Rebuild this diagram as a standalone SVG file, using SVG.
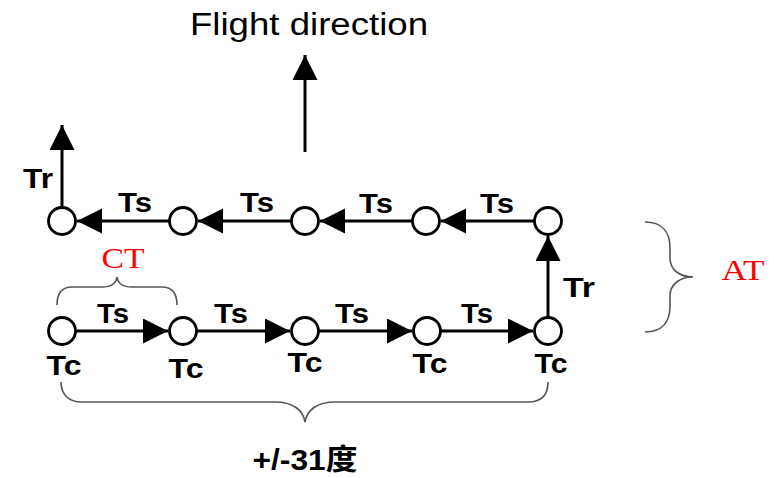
<svg xmlns="http://www.w3.org/2000/svg" width="779" height="478" viewBox="0 0 779 478">
  <style>
    .node { fill: #fff; stroke: #000; stroke-width: 2.8; }
    .link { stroke: #000; stroke-width: 3; fill: none; marker-end: url(#head); }
    .lbl { font-family: "Liberation Sans", Arial, sans-serif; font-size: 28px; font-weight: bold; fill: #000; text-anchor: middle; }
    .red { font-family: "Liberation Serif", "Times New Roman", serif; font-size: 30px; fill: #f00; text-anchor: middle; }
    .brace { fill: none; stroke: #555; stroke-width: 1.6; }
  </style>
  <defs>
    <marker id="head" markerUnits="userSpaceOnUse" markerWidth="26" markerHeight="26" refX="25" refY="12.5" orient="auto">
      <path d="M0,0 L25,12.5 L0,25 Z" fill="#000"/>
    </marker>
  </defs>
  <rect width="779" height="478" fill="#fff"/>

  <!-- title and flight direction arrow -->
  <text x="309" y="35" font-family="Liberation Sans, Arial, sans-serif" font-size="31" text-anchor="middle" textLength="238" lengthAdjust="spacingAndGlyphs">Flight direction</text>

  <g id="connectors">
    <line class="link" x1="305" y1="152" x2="305" y2="55"/>
    <!-- top row, right to left -->
    <line class="link" x1="534" y1="221" x2="441" y2="221"/>
    <line class="link" x1="412" y1="221" x2="320" y2="221"/>
    <line class="link" x1="291" y1="221" x2="198" y2="221"/>
    <line class="link" x1="169" y1="221" x2="77" y2="221"/>
    <line class="link" x1="62" y1="207" x2="62" y2="125"/>
    <!-- bottom row, left to right -->
    <line class="link" x1="75" y1="331" x2="168" y2="331"/>
    <line class="link" x1="196" y1="331" x2="290" y2="331"/>
    <line class="link" x1="318" y1="331" x2="412" y2="331"/>
    <line class="link" x1="440" y1="331" x2="533" y2="331"/>
    <line class="link" x1="548" y1="317" x2="548" y2="236"/>
  </g>

  <g id="top-row">
    <g id="t1"><circle class="node" cx="62" cy="221" r="13.5"/></g>
    <g id="t2"><circle class="node" cx="183" cy="221" r="13.5"/></g>
    <g id="t3"><circle class="node" cx="305" cy="221" r="13.5"/></g>
    <g id="t4"><circle class="node" cx="426" cy="221" r="13.5"/></g>
    <g id="t5"><circle class="node" cx="548" cy="221" r="13.5"/></g>
  </g>
  <g id="bottom-row">
    <g id="b1"><circle class="node" cx="62" cy="331" r="13.5"/><text class="lbl" x="64" y="375" textLength="35" lengthAdjust="spacingAndGlyphs">Tc</text></g>
    <g id="b2"><circle class="node" cx="183" cy="331" r="13.5"/><text class="lbl" x="186" y="378" textLength="35" lengthAdjust="spacingAndGlyphs">Tc</text></g>
    <g id="b3"><circle class="node" cx="305" cy="331" r="13.5"/><text class="lbl" x="305" y="372" textLength="35" lengthAdjust="spacingAndGlyphs">Tc</text></g>
    <g id="b4"><circle class="node" cx="427" cy="331" r="13.5"/><text class="lbl" x="430" y="373" textLength="35" lengthAdjust="spacingAndGlyphs">Tc</text></g>
    <g id="b5"><circle class="node" cx="548" cy="331" r="13.5"/><text class="lbl" x="551" y="373" textLength="33" lengthAdjust="spacingAndGlyphs">Tc</text></g>
  </g>

  <!-- edge labels -->
  <g id="edge-labels">
    <text class="lbl" x="135" y="212" textLength="34" lengthAdjust="spacingAndGlyphs">Ts</text>
    <text class="lbl" x="257" y="212" textLength="34" lengthAdjust="spacingAndGlyphs">Ts</text>
    <text class="lbl" x="376" y="213" textLength="34" lengthAdjust="spacingAndGlyphs">Ts</text>
    <text class="lbl" x="497" y="213" textLength="34" lengthAdjust="spacingAndGlyphs">Ts</text>
    <text class="lbl" x="113" y="323" textLength="32" lengthAdjust="spacingAndGlyphs">Ts</text>
    <text class="lbl" x="231" y="323" textLength="34" lengthAdjust="spacingAndGlyphs">Ts</text>
    <text class="lbl" x="352" y="323" textLength="34" lengthAdjust="spacingAndGlyphs">Ts</text>
    <text class="lbl" x="477" y="323" textLength="32" lengthAdjust="spacingAndGlyphs">Ts</text>
    <text class="lbl" x="38" y="188" textLength="30" lengthAdjust="spacingAndGlyphs">Tr</text>
    <text class="lbl" x="579" y="297" textLength="32" lengthAdjust="spacingAndGlyphs">Tr</text>
  </g>

  <!-- braces -->
  <g id="ct">
    <path class="brace" d="M57,305 C57,293 62,287 72,287 L102,287 C110,287 116,284 117,277 C118,284 124,287 132,287 L162,287 C172,287 177,293 177,305"/>
    <text class="red" x="123" y="268" textLength="43" lengthAdjust="spacingAndGlyphs">CT</text>
  </g>
  <g id="at">
    <path class="brace" d="M645,222 C662,222 670,232 670,248 L670,258 C670,270 680,277 693,277 C680,277 670,284 670,296 L670,306 C670,322 662,332 645,332"/>
    <text class="red" x="743" y="280" textLength="43" lengthAdjust="spacingAndGlyphs">AT</text>
  </g>
  <g id="span">
    <path class="brace" d="M61,382 C61,394 68,402 82,402 L275,402 C293,402 303,410 305,422 C307,410 317,402 335,402 L528,402 C542,402 548,394 548,382"/>
    <text x="305" y="470" font-family="Liberation Sans, 'Noto Sans CJK SC', sans-serif" font-size="29" font-weight="bold" text-anchor="middle" textLength="105" lengthAdjust="spacingAndGlyphs">+/-31度</text>
  </g>
</svg>
